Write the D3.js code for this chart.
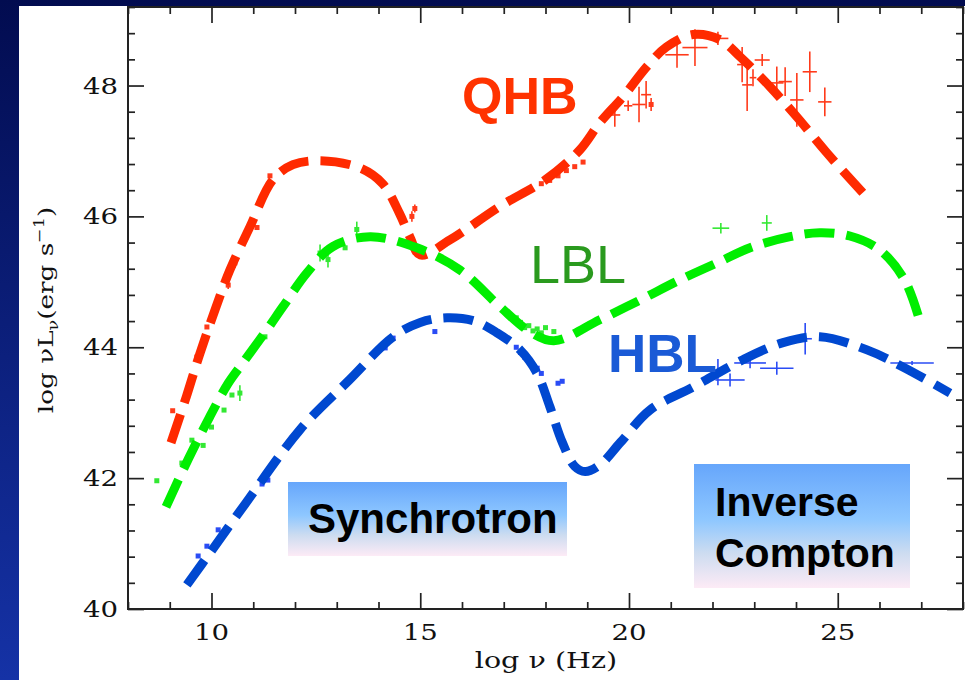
<!DOCTYPE html>
<html><head><meta charset="utf-8">
<script src="https://cdn.jsdelivr.net/npm/d3@7"></script>
<style>body{margin:0;padding:0;overflow:hidden;background:#fff}</style>
</head><body><svg id="c" width="965" height="680"></svg>
<script>
// ---------- data ----------
const xDomain = [8, 28];
const yDomain = [40, 49.2];
const xMajorTicks = [10, 15, 20, 25];
const yMajorTicks = [40, 42, 44, 46, 48];
const xTickLabels = ["10", "15", "20", "25"];
const yTickLabels = ["40", "42", "44", "46", "48"];

// model curves [log nu, log nuLnu]
const qhbModel = [[9.03,42.54],[9.4,43.25],[9.72,43.9],[10.1,44.6],[10.44,45.18],[10.92,45.84],[11.47,46.56],[11.95,46.79],[12.6,46.85],[13.56,46.74],[14.1,46.5],[14.5,46.05],[14.75,45.69],[15.0,45.41],[15.71,45.64],[16.9,46.15],[18.0,46.56],[18.83,47.02],[19.3,47.43],[19.86,47.83],[20.43,48.29],[20.9,48.59],[21.53,48.78],[22.18,48.7],[22.66,48.44],[23.38,47.98],[24.02,47.52],[24.74,46.97],[25.6,46.36]];
const lblModel = [[8.91,41.56],[9.45,42.3],[9.96,42.94],[10.4,43.45],[10.75,43.76],[11.33,44.27],[11.71,44.62],[12.29,45.14],[12.91,45.54],[13.8,45.69],[14.92,45.52],[15.95,45.18],[16.91,44.62],[17.6,44.25],[18.2,44.1],[19.3,44.42],[20.26,44.72],[21.22,45.03],[22.18,45.31],[22.9,45.52],[23.86,45.69],[24.57,45.75],[25.29,45.7],[26.0,45.49],[26.6,45.03],[26.97,44.39]];
const hblModel = [[9.41,40.37],[10.0,40.89],[10.8,41.6],[12.12,42.74],[13.3,43.5],[14.35,44.16],[15.0,44.38],[15.64,44.45],[16.3,44.4],[16.84,44.22],[17.39,43.96],[17.8,43.6],[18.1,43.1],[18.4,42.55],[18.7,42.18],[18.95,42.1],[19.3,42.2],[19.8,42.55],[20.5,43.04],[21.53,43.39],[22.73,43.81],[23.69,44.07],[24.57,44.16],[25.7,43.96],[26.56,43.7],[27.69,43.3]];

// observed points [log nu, log nuLnu, x error, y error]
const qhbPoints = [[9.07,43.03,0,0],[9.65,43.85,0,0.05],[9.89,44.31,0,0],[10.4,44.95,0,0.06],[10.56,45.29,0,0.08],[11.09,45.83,0,0],[11.4,46.62,0,0],[14.8,46.0,0,0.08],[14.87,46.12,0,0.06],
  [17.9,46.5,0,0],[18.1,46.55,0,0],[18.3,46.62,0,0],[18.5,46.7,0,0],[18.7,46.76,0,0],[18.9,46.83,0,0],
  [19.66,47.55,0.13,0.18],[19.98,47.69,0.1,0.08],[20.24,47.71,0.16,0.27],[20.41,47.86,0.12,0.21],[20.53,47.71,0,0.1],
  [21.15,48.47,0.28,0.2],[21.58,48.58,0.3,0.28],[22.13,48.72,0.25,0.1],[22.71,48.32,0.12,0.27],[22.83,48.01,0.12,0.4],
  [22.97,48.12,0.08,0.13],[23.19,48.39,0.18,0.09],[23.54,48.04,0.16,0.25],[23.74,48.06,0.16,0.22],[24.02,47.78,0.16,0.41],
  [24.33,48.21,0.17,0.31],[24.69,47.75,0.16,0.22]];
const lblPoints = [[8.69,41.96,0,0],[9.29,42.23,0,0],[9.53,42.58,0,0],[9.8,42.5,0,0],[10.0,42.78,0,0],[10.3,43.04,0,0],[10.49,43.27,0,0],[10.68,43.3,0,0.12],
  [11.28,44.16,0,0],[11.64,44.57,0,0],[12.6,45.44,0,0.13],[12.79,45.34,0,0.12],[13.2,45.52,0,0],[13.48,45.8,0,0.12],
  [17.3,44.45,0,0],[17.4,44.38,0,0],[17.5,44.3,0,0],[17.6,44.33,0,0],[17.7,44.25,0,0],[17.8,44.28,0,0],[17.9,44.22,0,0],[18.0,44.3,0,0],[18.2,44.24,0,0],
  [22.2,45.82,0.2,0.08],[23.3,45.9,0.12,0.12]];
const hblPoints = [[9.68,40.81,0,0],[9.89,40.96,0,0],[10.16,41.21,0,0],[11.21,41.91,0,0],[11.35,41.97,0,0],[14.16,43.99,0,0],[14.35,44.14,0,0],[15.35,44.24,0,0],
  [17.3,44.0,0,0],[17.4,43.92,0,0],[17.5,43.85,0,0],[17.6,43.8,0,0],[17.7,43.72,0,0],[17.8,43.68,0,0],[17.9,43.6,0,0],[18.3,43.45,0,0],[18.4,43.48,0,0],
  [22.13,43.62,0,0.2],[22.42,43.5,0.35,0.1],[22.9,43.76,0.38,0.08],[23.54,43.68,0.4,0.1],[24.22,44.13,0.16,0.24],[26.78,43.76,0.52,0.03]];

const seriesNames = ["QHB", "LBL", "HBL"];
const boxLabels = [["Synchrotron"], ["Inverse", "Compton"]];
const xTitle = "log ν (Hz)";

// ---------- drawing ----------
const svg = d3.select("#c");
const defs = svg.append("defs");
const bg = defs.append("linearGradient").attr("id","bg").attr("x1",0).attr("y1",0).attr("x2",0).attr("y2",1);
bg.append("stop").attr("offset","0%").attr("stop-color","#020c50");
bg.append("stop").attr("offset","100%").attr("stop-color","#1532a6");
const bx = defs.append("linearGradient").attr("id","box").attr("x1",0).attr("y1",0).attr("x2",0).attr("y2",1);
[["0%","#66a6fb"],["45%","#8ec7ff"],["72%","#cddcf0"],["100%","#fdebf6"]].forEach(s=>bx.append("stop").attr("offset",s[0]).attr("stop-color",s[1]));

svg.append("rect").attr("width",965).attr("height",680).attr("fill","url(#bg)");
svg.append("rect").attr("x",19).attr("y",6).attr("width",946).attr("height",674).attr("fill","#fff");

const x = d3.scaleLinear().domain(xDomain).range([128, 963]);
const y = d3.scaleLinear().domain(yDomain).range([609, 7]);

const xMinor = d3.range(8, 28.001, 1).filter(v => !xMajorTicks.includes(v));
const yMinor = d3.range(0, 24).map(i => +(40 + i*0.4).toFixed(1)).filter(v => !yMajorTicks.includes(v));

function tickAxis(axis, transform){
  const g = svg.append("g").attr("transform", transform).call(axis);
  g.select(".domain").remove();
  g.selectAll("line").attr("stroke","#222").attr("stroke-width",1.7);
  g.selectAll("text").remove();
}
tickAxis(d3.axisBottom(x).tickValues(xMajorTicks).tickSize(-16).tickFormat(""), "translate(0,609)");
tickAxis(d3.axisBottom(x).tickValues(xMinor).tickSize(-7).tickFormat(""), "translate(0,609)");
tickAxis(d3.axisTop(x).tickValues(xMajorTicks).tickSize(-16).tickFormat(""), "translate(0,7)");
tickAxis(d3.axisTop(x).tickValues(xMinor).tickSize(-7).tickFormat(""), "translate(0,7)");
tickAxis(d3.axisLeft(y).tickValues(yMajorTicks).tickSize(-16).tickFormat(""), "translate(128,0)");
tickAxis(d3.axisLeft(y).tickValues(yMinor).tickSize(-7).tickFormat(""), "translate(128,0)");
tickAxis(d3.axisRight(y).tickValues(yMajorTicks).tickSize(-16).tickFormat(""), "translate(963,0)");
tickAxis(d3.axisRight(y).tickValues(yMinor).tickSize(-7).tickFormat(""), "translate(963,0)");
svg.append("rect").attr("x",128).attr("y",7).attr("width",835).attr("height",602)
  .attr("fill","none").attr("stroke","#222").attr("stroke-width",2);

const serif = "'DejaVu Serif', 'Liberation Serif', serif";
// tick labels
xMajorTicks.forEach((v,i)=>{
  svg.append("text").attr("transform",`translate(${x(v)},640) scale(1.2,1)`)
    .attr("text-anchor","middle").attr("font-family",serif).attr("font-size",23).attr("fill","#111")
    .text(xTickLabels[i]);
});
yMajorTicks.forEach((v,i)=>{
  svg.append("text").attr("transform",`translate(118,${y(v)+8}) scale(1.2,1)`)
    .attr("text-anchor","end").attr("font-family",serif).attr("font-size",23).attr("fill","#111")
    .text(yTickLabels[i]);
});
// axis titles
svg.append("text").attr("transform","translate(546,668) scale(1.3,1)")
  .attr("text-anchor","middle").attr("font-family",serif).attr("font-size",22).attr("fill","#111").text(xTitle);
const yt = svg.append("text").attr("transform","translate(53,310) rotate(-90) scale(1.25,1)")
  .attr("text-anchor","middle").attr("font-family",serif).attr("font-size",21).attr("fill","#111");
yt.append("tspan").text("log νL");
yt.append("tspan").attr("font-size",14).attr("dy",5).text("ν");
yt.append("tspan").attr("dy",-5).text("(erg s");
yt.append("tspan").attr("font-size",14).attr("dy",-9).text("−1");
yt.append("tspan").attr("dy",9).text(")");

// annotation boxes
svg.append("rect").attr("x",288).attr("y",482).attr("width",279).attr("height",74).attr("fill","url(#box)");
svg.append("rect").attr("x",694).attr("y",464).attr("width",216).attr("height",124).attr("fill","url(#box)");
const sans = "'Liberation Sans', Arial, sans-serif";
svg.append("text").attr("x",308).attr("y",533).attr("font-family",sans).attr("font-weight","bold")
  .attr("font-size",42).attr("fill","#000").text(boxLabels[0][0]);
svg.append("text").attr("x",715).attr("y",516).attr("font-family",sans).attr("font-weight","bold")
  .attr("font-size",41).attr("fill","#000").text(boxLabels[1][0]);
svg.append("text").attr("x",715).attr("y",567).attr("font-family",sans).attr("font-weight","bold")
  .attr("font-size",41).attr("fill","#000").text(boxLabels[1][1]);

// series
const series = [
  {model:qhbModel, pts:qhbPoints, line:"#ff2a00", pt:"#ff3a1a"},
  {model:lblModel, pts:lblPoints, line:"#00ee00", pt:"#33e833"},
  {model:hblModel, pts:hblPoints, line:"#0048d0", pt:"#2a4cf5"}
];
const lineGen = d3.line().x(d=>x(d[0])).y(d=>y(d[1])).curve(d3.curveCatmullRom.alpha(0.5));

series.forEach(s=>{
  const g = svg.append("g");
  s.pts.forEach(p=>{
    const cx = x(p[0]), cy = y(p[1]);
    if (p[2] > 0) g.append("line").attr("x1",x(p[0]-p[2])).attr("x2",x(p[0]+p[2])).attr("y1",cy).attr("y2",cy)
      .attr("stroke",s.pt).attr("stroke-width",1.6);
    if (p[3] > 0) g.append("line").attr("x1",cx).attr("x2",cx).attr("y1",y(p[1]-p[3])).attr("y2",y(p[1]+p[3]))
      .attr("stroke",s.pt).attr("stroke-width",1.6);
    if (p[2] === 0) g.append("rect").attr("x",cx-2.5).attr("y",cy-2.5).attr("width",5).attr("height",5).attr("fill",s.pt);
  });
  svg.append("path").datum(s.model).attr("d",lineGen).attr("fill","none")
    .attr("stroke",s.line).attr("stroke-width",9).attr("stroke-dasharray","30,12");
});

// series labels
svg.append("text").attr("x",462).attr("y",114).attr("font-family",sans).attr("font-weight","bold")
  .attr("font-size",52).attr("fill","#ff3300").text(seriesNames[0]);
svg.append("text").attr("x",530).attr("y",283).attr("font-family",sans)
  .attr("font-size",54).attr("fill","#2a9a1e").text(seriesNames[1]);
svg.append("text").attr("x",608).attr("y",372).attr("font-family",sans).attr("font-weight","bold")
  .attr("font-size",53).attr("fill","#1a5ad6").text(seriesNames[2]);
</script></body></html>
